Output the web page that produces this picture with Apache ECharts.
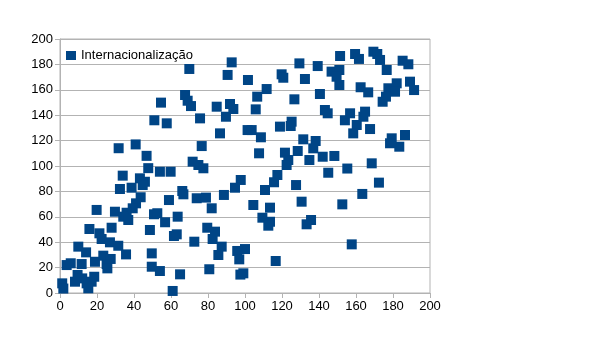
<!DOCTYPE html>
<html>
<head>
<meta charset="utf-8">
<script src="https://cdn.jsdelivr.net/npm/echarts@6/dist/echarts.min.js"></script>
<style>html,body{margin:0;padding:0;background:#fff}#c{width:604px;height:339px}</style>
</head>
<body>
<div id="c"></div>
<script>
var seriesName = "Internacionalização";
var xTicks = [0,20,40,60,80,100,120,140,160,180,200];
var yTicks = [0,20,40,60,80,100,120,140,160,180,200];
var xs = [31.7,40.9,46.8,51,47.7,69.9,92.8,90.6,101.6,67.6,69,70.8,54.6,84.7,91.9,93.7,89.7,75.7,57.7,86.5,101.4,76.6,54,59.8,71.7,74.8,77.5,
151.4,129.4,139.3,146.8,151,149.5,151,119.8,120.7,132.4,111.7,106.6,140.5,126.7,105.8,143.2,144.7,154,103.6,108.6,118.9,125.2,124.7,131.5,138.2,136.9,107.6,121.6,128.5,123.4,122.5,134.8,142,148.3,145,155.3,
159.5,161.6,169.4,171.5,173,176.6,185.2,188.3,162.5,166.6,177.5,182,189.2,191.4,181.1,176.2,174.4,156.8,160.4,164.9,164,158.5,167.6,179.3,178.4,183.4,186.5,168.5,
33.9,43.2,45.9,32.4,38.7,44.7,43.6,41.1,39.3,36,19.8,29.7,34.2,36.9,50.8,15.9,27.9,21.3,22.5,27,31.5,35.7,48.6,9.9,14.1,23.4,27.4,18.9,25.2,11.7,25.6,49.6,49.6,3.6,5.8,
9.5,12,17.1,14.4,8.1,1.2,1.8,15.3,18.5,
97.7,94.6,88.6,66.1,66.7,73.9,78.9,58.9,82,52.6,63.6,56.8,63.1,61.6,79.6,83.8,82.5,87.4,85.6,72.6,95.8,100,96.9,54,64.9,80.7,99.1,97.5,60.9,
117.5,115.7,110.8,127.6,104.5,113.5,130.6,152.6,109.4,113.5,112.6,135.7,133.3,116.6,172.4,163.4,157.7];
var ys = [114,117,108,136,98.3,176.4,181.6,171.7,167.7,155.9,151.4,147.2,149.9,146.7,148.8,144.9,138.8,137.5,133.6,125.7,128.3,115.7,95.5,95.5,103.4,100.8,98.2,
186.6,180.8,178.7,174.3,175.6,170.3,163.8,172.2,169.5,168.5,160.6,154.6,156.7,152.5,144.6,144.1,141.5,136,128.3,122.6,131,134.9,131.5,121,119.7,113.9,110,110.5,111.8,104.7,100.8,104.7,107.3,107.9,94.7,98,
188.2,184.3,190,188.2,183.5,175.6,182.9,180.1,162,158,161.2,165.1,166.4,159.8,158.5,154.6,150.6,141.5,132.3,142.8,138.8,125.7,129.1,121.8,117.9,115.2,124.4,102.1,
92.4,90.3,87.6,81.9,82.9,85,75.4,70.6,66.7,63.2,65.4,64,60.1,57.5,62,50.4,51.4,47,42.5,39.9,37.2,30.4,49.6,36.5,32,29.4,26.8,24.6,22.8,22.8,19.4,31.2,20.7,22,23.4,
14.2,11.5,8.9,7.6,8.9,7.6,3.5,3.7,12.8,
89,82.9,77.2,80.3,77.7,74.6,75.1,73.2,66.7,62.8,60.1,55.7,46.2,44.9,51.4,48.3,42.5,36.5,29.9,40.4,33.1,34.6,26.5,17.3,14.7,18.7,15.5,14.5,1.6,
92.9,87.2,81.1,85,69.3,67.2,71.9,69.8,59.3,56.1,53,57.5,54.1,25.2,86.9,78,38.3];
var points = xs.map(function(x, i){ return [x, ys[i]]; });

var FONT = "'Liberation Sans', Arial, sans-serif";
var chart = echarts.init(document.getElementById('c'), null, {renderer:'canvas'});
var axisCommon = {
  min: 0, max: 200, interval: 20,
  axisLine: {show: true, lineStyle: {color: '#b3b3b3', width: 1}},
  axisTick: {show: true, inside: false, length: 5, lineStyle: {color: '#b3b3b3'}},
  axisLabel: {color: '#000', fontFamily: FONT, fontSize: 13, margin: 7}
};
chart.setOption({
  animation: false,
  backgroundColor: '#fff',
  grid: {left: 60, right: 174, top: 39, bottom: 46, show: true, borderColor: '#b3b3b3', borderWidth: 1, backgroundColor: 'transparent'},
  legend: {
    show: true, left: 61, top: 44, orient: 'vertical',
    itemWidth: 10, itemHeight: 9, itemGap: 4,
    textStyle: {color: '#000', fontFamily: FONT, fontSize: 13},
    data: [{name: seriesName, icon: 'rect'}]
  },
  xAxis: Object.assign({type: 'value', splitLine: {show: false}}, axisCommon),
  yAxis: Object.assign({type: 'value', splitLine: {show: true, lineStyle: {color: '#b3b3b3', width: 1}}}, axisCommon),
  series: [{
    name: seriesName,
    type: 'scatter',
    symbol: 'rect',
    symbolSize: 10,
    itemStyle: {color: '#004586', opacity: 1},
    data: points
  }]
});
</script>
</body>
</html>
